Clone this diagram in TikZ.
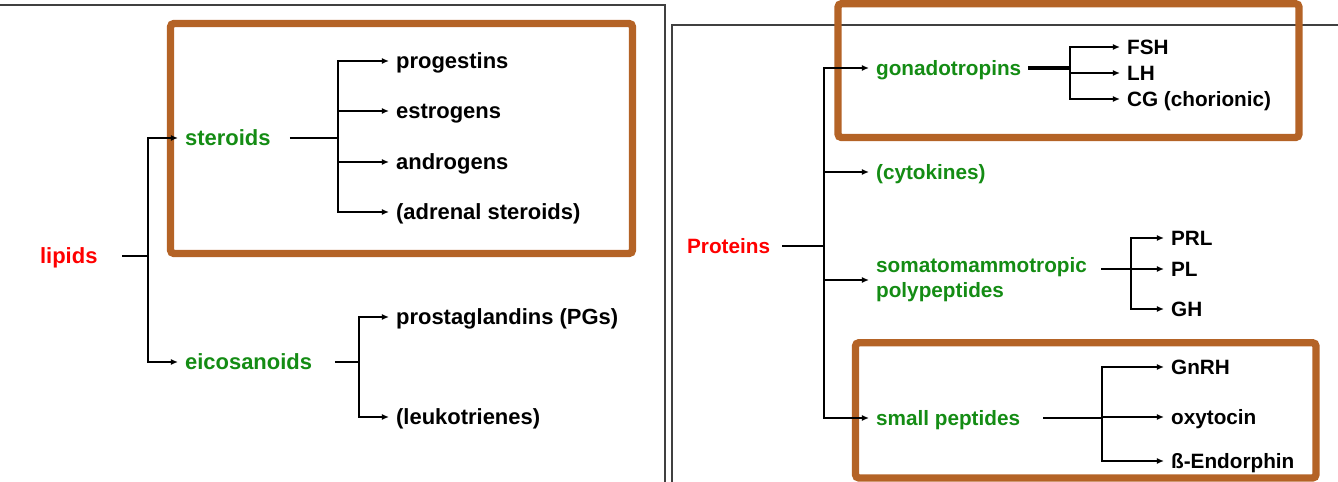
\documentclass[tikz,border=0pt]{standalone}
\usepackage{fontspec}
\setmainfont{Liberation Sans}
\usepackage{tikz}
\usetikzlibrary{arrows.meta,positioning}
\definecolor{boxbrown}{RGB}{180,99,38}
\definecolor{grpgreen}{RGB}{20,140,20}

\begin{document}
\begin{tikzpicture}[
            x=0.02cm,y=-0.02cm,
            lsz/.style={font=\bfseries\fontsize{12.5}{15}\selectfont},
            rsz/.style={font=\bfseries\fontsize{11.8}{14.2}\selectfont},
            txt/.style={anchor=west,inner sep=3.5pt},
            one/.style={txt,text height=9pt,text depth=0.7pt},
            root/.style={one,text=red},
            grp/.style={one,text=grpgreen},
            grpm/.style={txt,text=grpgreen,align=left},
            leaf/.style={one,text=black},
            hilite/.style={draw=boxbrown,line width=4.2pt,rounded corners=2pt},
            frame/.style={draw=black!75,line width=0.7pt},
            every path/.style={line width=1.1pt,>={Latex[length=4pt,width=3.4pt]}}
          ]
          \useasboundingbox (0,0) rectangle (1338,482);

          %panel frames
          \draw[frame] (0,5) -- (665,5) -- (665,482);
          \draw[frame] (672,482) -- (672,25) -- (1338,25);

          %highlight boxes
          \draw[hilite] (170.5,23.5) rectangle (632.5,253.5);
          \draw[hilite] (838,3.7) rectangle (1299,137.5);
          \draw[hilite] (855.5,342.7) rectangle (1316,478);

          %lipids
          \begin{scope}[every node/.append style={lsz}]
          \node[root] (lipids) at (33,256) {lipids};
          \node[grp] (steroids) at (178,138) {steroids};
          \node[grp] (eicosanoids) at (178,362) {eicosanoids};

          \node[leaf] (progestins) at (389,61) {progestins};
          \node[leaf] (estrogens) at (389,111) {estrogens};
          \node[leaf] (androgens) at (389,162) {androgens};
          \node[leaf] (adrenal) at (389,212) {(adrenal steroids)};
          \node[leaf] (pgs) at (389,317) {prostaglandins (PGs)};
          \node[leaf] (leuko) at (389,417) {(leukotrienes)};
          \end{scope}

          \coordinate (jlip) at (148,256);
          \coordinate (jste) at (338,138);
          \coordinate (jeic) at (359,362);

          \draw[shorten <=10pt] (lipids.east) -- (jlip);
          \draw[->] (jlip) |- (steroids.west);
          \draw[->] (jlip) |- (eicosanoids.west);
          \draw[shorten <=7pt] (steroids.east) -- (jste);
          \foreach \n in {progestins,estrogens,androgens,adrenal}
            \draw[->] (jste) |- (\n.west);
          \draw[shorten <=9pt] (eicosanoids.east) -- (jeic);
          \foreach \n in {pgs,leuko}
            \draw[->] (jeic) |- (\n.west);

          %proteins
          \begin{scope}[every node/.append style={rsz}]
          \node[root] (proteins) at (680,246) {Proteins};
          \node[grp] (gonadotropins) at (869,68) {gonadotropins};
          \node[grp] (cytokines) at (869,172) {(cytokines)};
          \node[grpm] (somato) at (869,280) {somatomammotropic\\polypeptides};
          \node[grp] (smallpep) at (869,418) {small peptides};

          \node[leaf] (fsh) at (1120,47) {FSH};
          \node[leaf] (lh) at (1120,73) {LH};
          \node[leaf] (cg) at (1120,99) {CG (chorionic)};

          \node[leaf] (prl) at (1164,238) {PRL};
          \node[leaf] (pl) at (1164,269) {PL};
          \node[leaf] (gh) at (1164,309) {GH};

          \node[leaf] (gnrh) at (1164,367) {GnRH};
          \node[leaf] (oxytocin) at (1164,417) {oxytocin};
          \node[leaf] (endorphin) at (1164,461) {ß-Endorphin};
          \end{scope}

          \coordinate (jpro) at (824,246);
          \coordinate (jgon) at (1070,68);
          \coordinate (jsom) at (1131,269);
          \coordinate (jsml) at (1102,418);

          \draw[shorten <=3pt] (proteins.east) -- (jpro);
          \foreach \n in {gonadotropins,cytokines,somato,smallpep}
            \draw[->] (jpro) |- (\n.west);
          \draw[line width=1.8pt] (gonadotropins.east) -- (jgon);
          \foreach \n in {fsh,lh,cg}
            \draw[->] (jgon) |- (\n.west);
          \draw[->,shorten <=4pt] (somato.east |- pl.west) -- (pl.west);
          \draw[->] (jsom) |- (prl.west);
          \draw[->] (jsom) |- (gh.west);
          \draw[shorten <=9pt] (smallpep.east) -- (jsml);
          \foreach \n in {gnrh,oxytocin,endorphin}
            \draw[->] (jsml) |- (\n.west);

      \end{tikzpicture}
\end{document}
